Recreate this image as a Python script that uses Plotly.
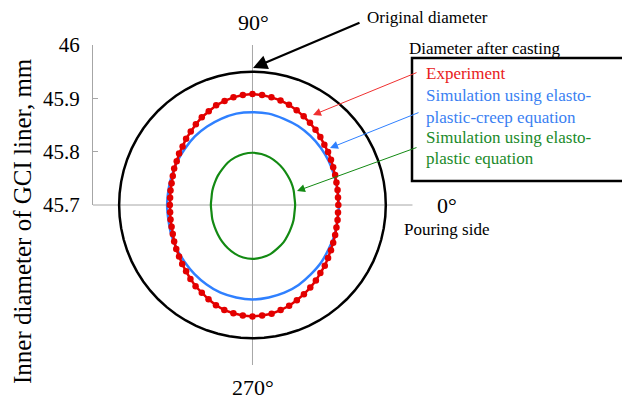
import numpy as np
import plotly.graph_objects as go

# ---------------- data (diameters in mm, angle in degrees) ----------------
center_diam = 45.7
original_diam = 45.95

exp_angles = list(range(0, 360, 5))
exp_diam = [45.861, 45.861, 45.862, 45.863, 45.865, 45.867, 45.870, 45.873, 45.876, 45.880,
            45.884, 45.888, 45.892, 45.896, 45.900, 45.903, 45.905, 45.907, 45.908, 45.907,
            45.905, 45.902, 45.899, 45.894, 45.890, 45.885, 45.880, 45.876, 45.871, 45.868,
            45.864, 45.862, 45.859, 45.857, 45.856, 45.855, 45.855, 45.855, 45.856, 45.857,
            45.859, 45.862, 45.865, 45.868, 45.872, 45.876, 45.881, 45.886, 45.890, 45.895,
            45.900, 45.904, 45.906, 45.908, 45.909, 45.908, 45.907, 45.904, 45.901, 45.897,
            45.893, 45.889, 45.885, 45.880, 45.877, 45.873, 45.870, 45.867, 45.865, 45.863,
            45.862, 45.861]

sim_angles = list(range(0, 361, 10))
creep_diam = [45.862, 45.862, 45.863, 45.865, 45.867, 45.869, 45.871, 45.872, 45.874, 45.874,
              45.874, 45.872, 45.870, 45.868, 45.865, 45.863, 45.861, 45.860, 45.860, 45.860,
              45.862, 45.864, 45.866, 45.869, 45.872, 45.875, 45.876, 45.877, 45.876, 45.875,
              45.873, 45.870, 45.868, 45.865, 45.864, 45.862, 45.862]
plastic_diam = [45.780, 45.780, 45.782, 45.784, 45.786, 45.789, 45.792, 45.795, 45.797, 45.798,
                45.797, 45.795, 45.792, 45.788, 45.785, 45.782, 45.780, 45.778, 45.778, 45.778,
                45.780, 45.782, 45.785, 45.789, 45.793, 45.797, 45.800, 45.801, 45.800, 45.798,
                45.794, 45.791, 45.787, 45.784, 45.782, 45.780, 45.780]

orig_angles = list(range(0, 361, 5))

y_ticks = [45.7, 45.8, 45.9, 46.0]
y_ticktext = ["45.7", "45.8", "45.9", "46"]

# ---------------- helpers ----------------
def to_xy(angles, diams):
    a = np.radians(np.array(angles, dtype=float))
    r = np.array(diams, dtype=float) - center_diam
    return r * np.cos(a), center_diam + r * np.sin(a)

FONT = "Liberation Serif"
L, T, W, H = 93, 45, 519, 320
def px(x):
    return (x - L) / W
def py(y):
    return (T + H - y) / H

RED = "#e30000"
BLUE = "#2f80ff"
GREEN = "#138a13"
GREY = "#a6a6a6"

fig = go.Figure()

xo, yo = to_xy(orig_angles, [original_diam] * len(orig_angles))
fig.add_trace(go.Scatter(x=xo, y=yo, mode="lines", line=dict(color="black", width=2.5),
                         hoverinfo="skip"))

xb, yb = to_xy(sim_angles, creep_diam)
fig.add_trace(go.Scatter(x=xb, y=yb, mode="lines", line=dict(color=BLUE, width=2.5, shape="spline"),
                         hoverinfo="skip"))

xg, yg = to_xy(sim_angles, plastic_diam)
fig.add_trace(go.Scatter(x=xg, y=yg, mode="lines", line=dict(color=GREEN, width=2.2, shape="spline"),
                         hoverinfo="skip"))

xr, yr = to_xy(exp_angles, exp_diam)
fig.add_trace(go.Scatter(x=xr, y=yr, mode="lines+markers", line=dict(color=RED, width=2.5),
                         marker=dict(color=RED, size=6.5), hoverinfo="skip"))

# dummy trace so the short left axis is drawn
fig.add_trace(go.Scatter(x=[0], y=[45.7], yaxis="y2", mode="markers",
                         marker=dict(opacity=0), hoverinfo="skip"))

xr_min = -0.299
fig.update_layout(
    width=622, height=400,
    margin=dict(l=L, r=622 - L - W, t=T, b=400 - T - H),
    paper_bgcolor="white", plot_bgcolor="rgba(0,0,0,0)",
    showlegend=False,
    xaxis=dict(range=[xr_min, xr_min + W / 533.333], visible=False, fixedrange=True),
    yaxis=dict(range=[45.4, 46.0], visible=False, fixedrange=True),
    yaxis2=dict(domain=[0.5, 1.0], range=[45.7, 46.0], anchor="x", side="left",
                showline=True, linecolor=GREY, linewidth=1,
                ticks="inside", ticklen=5, tickcolor=GREY, tickwidth=1,
                tickvals=y_ticks, ticktext=y_ticktext, showgrid=False, zeroline=False,
                tickfont=dict(family=FONT, size=21, color="black"),
                ticklabelstandoff=8, fixedrange=True),
    font=dict(family=FONT, color="black"),
)

# crosshair
fig.add_shape(type="line", x0=0, x1=0, y0=45.4, y1=46.0, xref="x", yref="y",
              line=dict(color=GREY, width=1), layer="below")
fig.add_shape(type="line", x0=-0.3, x1=0.3, y0=45.7, y1=45.7, xref="x", yref="y",
              line=dict(color=GREY, width=1), layer="below")

# legend box
fig.add_shape(type="rect", xref="paper", yref="paper", x0=px(412), x1=px(640),
              y0=py(181), y1=py(58), line=dict(color="black", width=2.5))

def text(s, x, y, size=17, color="black", xanchor="left", angle=0):
    fig.add_annotation(text=s, x=px(x), y=py(y), xref="paper", yref="paper",
                       xanchor=xanchor, yanchor="middle", showarrow=False,
                       textangle=angle, font=dict(family=FONT, size=size, color=color))

text("90°", 253, 22, size=22, xanchor="center")
text("270°", 253, 387, size=22, xanchor="center")
text("0°", 447, 205, size=22, xanchor="center")
text("Pouring side", 446, 229, size=17, xanchor="center")
text("Original diameter", 365, 18)
text("Diameter after casting", 407, 48)
text("Experiment", 424, 73, color="#e82020")
text("Simulation using elasto-", 424, 95, color="#3a7ff2")
text("plastic-creep equation", 424, 117, color="#3a7ff2")
text("Simulation using elasto-", 424, 137, color="#1a8a2a")
text("plastic equation", 424, 158, color="#1a8a2a")
text("Inner diameter of GCI liner, mm", 22, 221, size=25, xanchor="center", angle=-90)

def arrow(tip, tail, color, width, size):
    fig.add_annotation(x=px(tip[0]), y=py(tip[1]), xref="paper", yref="paper",
                       ax=tail[0] - tip[0], ay=tail[1] - tip[1], axref="pixel", ayref="pixel",
                       text="", showarrow=True, arrowhead=2, arrowsize=size,
                       arrowwidth=width, arrowcolor=color, standoff=0)

arrow((253, 68), (361, 22), "black", 2.2, 1.3)
arrow((313, 115), (418, 72), "#f03030", 1, 1.6)
arrow((330, 148), (420, 112), BLUE, 1, 1.6)
arrow((297, 191), (418, 147), GREEN, 1, 1.6)

fig.write_html("out.html")
